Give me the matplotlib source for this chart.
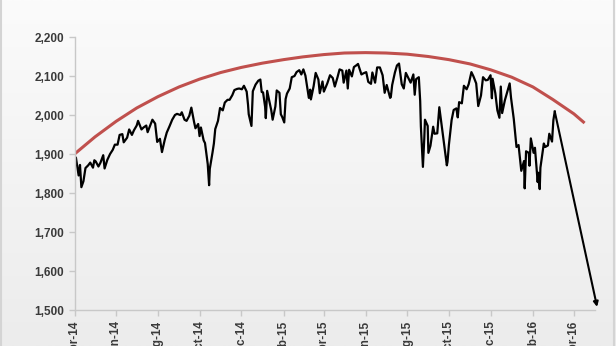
import numpy as np
import pandas as pd
import matplotlib
matplotlib.use("Agg")
import matplotlib.pyplot as plt
import matplotlib.dates as mdates
from matplotlib.ticker import FuncFormatter

# S&P 500 style series (date, level)
spx_dates = [
    "2014-04-01", "2014-04-03", "2014-04-07", "2014-04-09", "2014-04-11", "2014-04-14", "2014-04-17",
    "2014-04-21", "2014-04-24", "2014-04-28", "2014-04-30", "2014-05-02", "2014-05-06", "2014-05-09",
    "2014-05-13", "2014-05-15", "2014-05-19", "2014-05-23", "2014-05-27", "2014-05-30", "2014-06-03",
    "2014-06-06", "2014-06-10", "2014-06-12", "2014-06-17", "2014-06-20", "2014-06-24", "2014-06-27",
    "2014-07-01", "2014-07-03", "2014-07-08", "2014-07-11", "2014-07-15", "2014-07-17", "2014-07-21",
    "2014-07-24", "2014-07-28", "2014-07-31", "2014-08-04", "2014-08-07", "2014-08-11", "2014-08-14",
    "2014-08-18", "2014-08-22", "2014-08-26", "2014-08-29", "2014-09-03", "2014-09-05", "2014-09-09",
    "2014-09-12", "2014-09-16", "2014-09-19", "2014-09-23", "2014-09-25", "2014-09-29", "2014-10-01",
    "2014-10-03", "2014-10-07", "2014-10-09", "2014-10-13", "2014-10-15", "2014-10-16", "2014-10-20",
    "2014-10-22", "2014-10-24", "2014-10-28", "2014-10-31", "2014-11-04", "2014-11-07", "2014-11-11",
    "2014-11-14", "2014-11-18", "2014-11-21", "2014-11-25", "2014-11-28", "2014-12-02", "2014-12-05",
    "2014-12-09", "2014-12-11", "2014-12-12", "2014-12-16", "2014-12-18", "2014-12-22", "2014-12-26",
    "2014-12-29", "2014-12-31", "2015-01-02", "2015-01-05", "2015-01-06", "2015-01-08", "2015-01-12",
    "2015-01-14", "2015-01-16", "2015-01-20", "2015-01-22", "2015-01-26", "2015-01-28", "2015-01-30",
    "2015-02-02", "2015-02-04", "2015-02-06", "2015-02-10", "2015-02-13", "2015-02-17", "2015-02-20",
    "2015-02-24", "2015-02-27", "2015-03-02", "2015-03-05", "2015-03-10", "2015-03-12", "2015-03-13",
    "2015-03-17", "2015-03-20", "2015-03-24", "2015-03-26", "2015-03-30", "2015-04-01", "2015-04-06",
    "2015-04-10", "2015-04-14", "2015-04-17", "2015-04-21", "2015-04-24", "2015-04-28", "2015-04-30",
    "2015-05-04", "2015-05-06", "2015-05-08", "2015-05-12", "2015-05-15", "2015-05-19", "2015-05-21",
    "2015-05-26", "2015-05-29", "2015-06-02", "2015-06-05", "2015-06-09", "2015-06-11", "2015-06-15",
    "2015-06-18", "2015-06-22", "2015-06-26", "2015-06-29", "2015-07-02", "2015-07-07", "2015-07-08",
    "2015-07-10", "2015-07-14", "2015-07-17", "2015-07-20", "2015-07-24", "2015-07-27", "2015-07-30",
    "2015-08-03", "2015-08-06", "2015-08-10", "2015-08-12", "2015-08-14", "2015-08-18", "2015-08-20",
    "2015-08-21", "2015-08-24", "2015-08-26", "2015-08-27", "2015-08-31", "2015-09-01", "2015-09-04",
    "2015-09-08", "2015-09-10", "2015-09-14", "2015-09-17", "2015-09-21", "2015-09-23", "2015-09-28",
    "2015-09-29", "2015-10-01", "2015-10-05", "2015-10-08", "2015-10-12", "2015-10-14", "2015-10-16",
    "2015-10-20", "2015-10-23", "2015-10-27", "2015-10-30", "2015-11-03", "2015-11-06", "2015-11-10",
    "2015-11-13", "2015-11-17", "2015-11-20", "2015-11-24", "2015-11-27", "2015-12-01", "2015-12-03",
    "2015-12-04", "2015-12-08", "2015-12-11", "2015-12-14", "2015-12-16", "2015-12-18", "2015-12-22",
    "2015-12-29", "2015-12-31", "2016-01-04", "2016-01-07", "2016-01-08", "2016-01-11", "2016-01-13",
    "2016-01-15", "2016-01-19", "2016-01-20", "2016-01-22", "2016-01-26", "2016-01-27", "2016-01-29",
    "2016-02-02", "2016-02-04", "2016-02-08", "2016-02-09", "2016-02-11", "2016-02-12", "2016-02-17",
    "2016-02-19", "2016-02-23", "2016-02-25", "2016-02-29", "2016-03-02", "2016-03-04",
]
spx_values = [
    1886, 1891, 1845, 1872, 1815, 1830, 1864,
    1871, 1878, 1865, 1884, 1881, 1868, 1878,
    1897, 1863, 1885, 1900, 1911, 1924, 1924,
    1949, 1951, 1930, 1942, 1963, 1949, 1961,
    1973, 1985, 1963, 1968, 1973, 1956, 1974,
    1988, 1978, 1931, 1939, 1905, 1936, 1955,
    1971, 1988, 2000, 2003, 2000, 2007, 1988,
    1985, 1998, 2019, 1982, 1966, 1977, 1946,
    1968, 1935, 1928, 1874, 1820, 1862, 1904,
    1927, 1964, 1985, 2018, 2012, 2032, 2039,
    2039, 2051, 2064, 2067, 2068, 2066, 2075,
    2060, 2026, 2002, 1972, 2061, 2078, 2088,
    2091, 2059, 2058, 2021, 1992, 2062, 2028,
    2012, 1988, 2022, 2063, 2057, 2002, 1995,
    1981, 2041, 2055, 2068, 2097, 2100, 2110,
    2115, 2104, 2117, 2101, 2044, 2065, 2040,
    2074, 2108, 2091, 2056, 2086, 2060, 2081,
    2102, 2095, 2073, 2097, 2117, 2114, 2083,
    2114, 2068, 2116, 2099, 2123, 2128, 2131,
    2104, 2107, 2110, 2085, 2080, 2109, 2083,
    2122, 2122, 2102, 2057, 2077, 2044, 2046,
    2077, 2109, 2127, 2132, 2079, 2068, 2108,
    2094, 2083, 2104, 2052, 2092, 2097, 2036,
    1971, 1867, 1940, 1988, 1972, 1903, 1921,
    1970, 1952, 1953, 2020, 1967, 1939, 1871,
    1880, 1923, 1987, 2013, 2017, 1994, 2033,
    2030, 2075, 2066, 2079, 2110, 2099, 2081,
    2023, 2050, 2097, 2089, 2090, 2102, 2043,
    2093, 2056, 2012, 1993, 2073, 2005, 2038,
    2081, 2044, 1990, 1935, 1918, 1923, 1890,
    1857, 1882, 1812, 1907, 1903, 1870, 1940,
    1903, 1916, 1828, 1852, 1810, 1865, 1927,
    1918, 1922, 1952, 1932, 1987, 2009,
]

# red arc drawn over the highs
arc_dates = [
    "2014-04-01", "2014-05-01", "2014-06-01", "2014-07-01", "2014-08-01", "2014-09-01", "2014-10-01",
    "2014-11-01", "2014-12-01", "2015-01-01", "2015-02-01", "2015-03-01", "2015-04-01", "2015-05-01",
    "2015-06-01", "2015-07-01", "2015-08-01", "2015-09-01", "2015-10-01", "2015-11-01", "2015-12-01",
    "2016-01-01", "2016-02-01", "2016-03-01", "2016-04-01", "2016-04-15",
]
arc_values = [
    1900, 1944, 1984, 2018, 2047, 2072, 2092,
    2109, 2122, 2133, 2142, 2149, 2155, 2159,
    2160, 2159, 2156, 2150, 2142, 2131, 2116,
    2097, 2072, 2040, 2003, 1982,
]

arrow_start = ("2016-03-04", 2009)
arrow_end = ("2016-05-05", 1508)

fig = plt.figure(figsize=(6.16, 3.46), dpi=100)

# light grey gradient backdrop
bg = fig.add_axes([0, 0, 1, 1], zorder=-10)
grad = np.linspace(0, 1, 256).reshape(-1, 1)
bg.imshow(grad, aspect="auto", cmap=matplotlib.colors.LinearSegmentedColormap.from_list(
    "bg", ["#fbfbfb", "#ececec"]), extent=[0, 1, 0, 1], origin="upper")
bg.axvline(0.002, color="#d4d4d4", lw=1.5)
bg.axvline(0.997, color="#d4d4d4", lw=1.5)
bg.set_xlim(0, 1)
bg.set_ylim(0, 1)
bg.axis("off")

ax = fig.add_axes([0.121, 0.104, 0.845, 0.789])
ax.patch.set_alpha(0)

ax.plot(pd.to_datetime(spx_dates), spx_values, color="black", lw=1.6)
ax.plot(pd.to_datetime(arc_dates), arc_values, color="#c0504d", lw=2.2)

ax.annotate("", xy=(pd.Timestamp(arrow_end[0]), arrow_end[1]),
            xytext=(pd.Timestamp(arrow_start[0]), arrow_start[1]),
            arrowprops=dict(arrowstyle="-|>", color="black", lw=1.5,
                            mutation_scale=7, shrinkA=0, shrinkB=0),
            annotation_clip=False)

ax.set_xlim(pd.Timestamp("2014-04-01"), pd.Timestamp("2016-05-02"))
ax.set_ylim(1500, 2200)
ax.set_yticks(np.arange(1500, 2201, 100))
ax.yaxis.set_major_formatter(FuncFormatter(lambda v, p: f"{int(v):,}"))

ax.xaxis.set_major_locator(mdates.MonthLocator(bymonth=[2, 4, 6, 8, 10, 12]))
ax.xaxis.set_major_formatter(mdates.DateFormatter("%b-%y"))

for s in ["top", "right"]:
    ax.spines[s].set_visible(False)
for s in ["left", "bottom"]:
    ax.spines[s].set_color("#c8c8c8")
    ax.spines[s].set_linewidth(1)

ax.tick_params(axis="both", colors="#c8c8c8", length=4, width=1, labelcolor="#3a3a3a")
for lbl in ax.get_yticklabels():
    lbl.set_fontfamily("Liberation Sans")
    lbl.set_fontweight("bold")
    lbl.set_fontsize(8.5)
# the month labels run off the bottom edge, as in the source image
for lbl in ax.get_xticklabels():
    lbl.set_fontfamily("Liberation Sans")
    lbl.set_fontweight("bold")
    lbl.set_fontsize(8.5)
    lbl.set_rotation(90)
    lbl.set_va("top")
    lbl.set_ha("center")

fig.savefig("out.png", dpi=100)
